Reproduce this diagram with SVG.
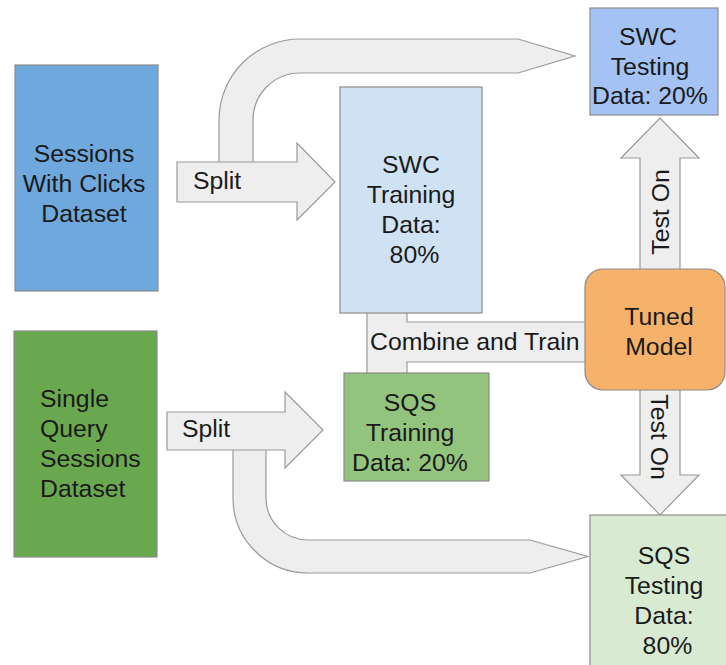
<svg xmlns="http://www.w3.org/2000/svg" width="726" height="665" viewBox="0 0 726 665">
  <style>
    .box { stroke: #8c8c8c; stroke-width: 1.2; }
    .flow { fill: #eeeeee; stroke: #9a9a9a; stroke-width: 1.2; stroke-linejoin: miter; }
    text { font-family: "Liberation Sans", Arial, sans-serif; font-size: 24.8px; fill: #1a1a1a; }
    .c { text-anchor: middle; }
  </style>
  <rect width="726" height="665" fill="#ffffff"/>

  <g id="connectors">
    <!-- curved split branch to SWC testing -->
    <path class="flow" d="M 219 166 L 219 120 A 81 81 0 0 1 300 39 L 518 39 L 575 56 L 518 73 L 300 73 A 47 47 0 0 0 253 120 L 253 166 Z"/>
    <!-- curved split branch to SQS testing -->
    <path class="flow" d="M 233 446 L 233 498 A 75 75 0 0 0 308 573 L 530 573 L 588 556.5 L 530 540 L 308 540 A 42 42 0 0 1 266 498 L 266 446 Z"/>
    <!-- split arrows -->
    <polygon class="flow" points="177,162 297,162 297,143 335,182 297,220 297,202 177,202"/>
    <text x="193" y="189">Split</text>
    <polygon class="flow" points="167,412 285,412 285,392 323,430 285,468 285,450 167,450"/>
    <text x="182" y="437">Split</text>
    <!-- combine and train -->
    <polygon class="flow" points="367,310 407,310 407,322 592,322 592,362 407,362 407,376 367,376"/>
    <text x="370" y="350">Combine and Train</text>
    <!-- test on arrows -->
    <polygon class="flow" points="640,272 640,158 621,158 660,118 699,158 680,158 680,272"/>
    <text class="c" transform="translate(669 212) rotate(-90)">Test On</text>
    <polygon class="flow" points="640,388 640,475 621,475 660,515 699,475 680,475 680,388"/>
    <text class="c" transform="translate(651 437) rotate(90)">Test On</text>
  </g>

  <g id="swc-dataset">
    <rect class="box" x="15" y="65" width="143" height="226" fill="#6fa8dc"/>
    <text class="c" x="84" y="162">Sessions</text>
    <text class="c" x="84" y="192">With Clicks</text>
    <text class="c" x="84" y="222">Dataset</text>
  </g>

  <g id="sqs-dataset">
    <rect class="box" x="14" y="331" width="143" height="226" fill="#6aa84f"/>
    <text x="40" y="407">Single</text>
    <text x="40" y="437">Query</text>
    <text x="40" y="467">Sessions</text>
    <text x="40" y="497">Dataset</text>
  </g>

  <g id="swc-training">
    <rect class="box" x="340" y="87" width="142" height="226" fill="#cfe2f3"/>
    <text class="c" x="411" y="173">SWC</text>
    <text class="c" x="411" y="203">Training</text>
    <text class="c" x="411" y="233">Data:</text>
    <text class="c" x="411" y="263" xml:space="preserve"> 80%</text>
  </g>

  <g id="sqs-training">
    <rect class="box" x="344" y="373" width="145" height="108" fill="#93c47d"/>
    <text class="c" x="410" y="411">SQS</text>
    <text class="c" x="410" y="441">Training</text>
    <text class="c" x="410" y="471">Data: 20%</text>
  </g>

  <g id="swc-testing">
    <rect class="box" x="590" y="8" width="128" height="107" fill="#a4c2f4"/>
    <text class="c" x="648" y="45">SWC</text>
    <text class="c" x="650" y="75">Testing</text>
    <text class="c" x="650" y="104">Data: 20%</text>
  </g>

  <g id="tuned-model">
    <rect class="box" x="585" y="269" width="140" height="121" rx="18" ry="18" fill="#f6b26b"/>
    <text class="c" x="659" y="325">Tuned</text>
    <text class="c" x="659" y="355">Model</text>
  </g>

  <g id="sqs-testing">
    <rect class="box" x="590" y="515" width="145" height="160" fill="#d9ead3"/>
    <text class="c" x="664" y="564">SQS</text>
    <text class="c" x="664" y="594">Testing</text>
    <text class="c" x="664" y="624">Data:</text>
    <text class="c" x="664" y="654" xml:space="preserve"> 80%</text>
  </g>
</svg>
